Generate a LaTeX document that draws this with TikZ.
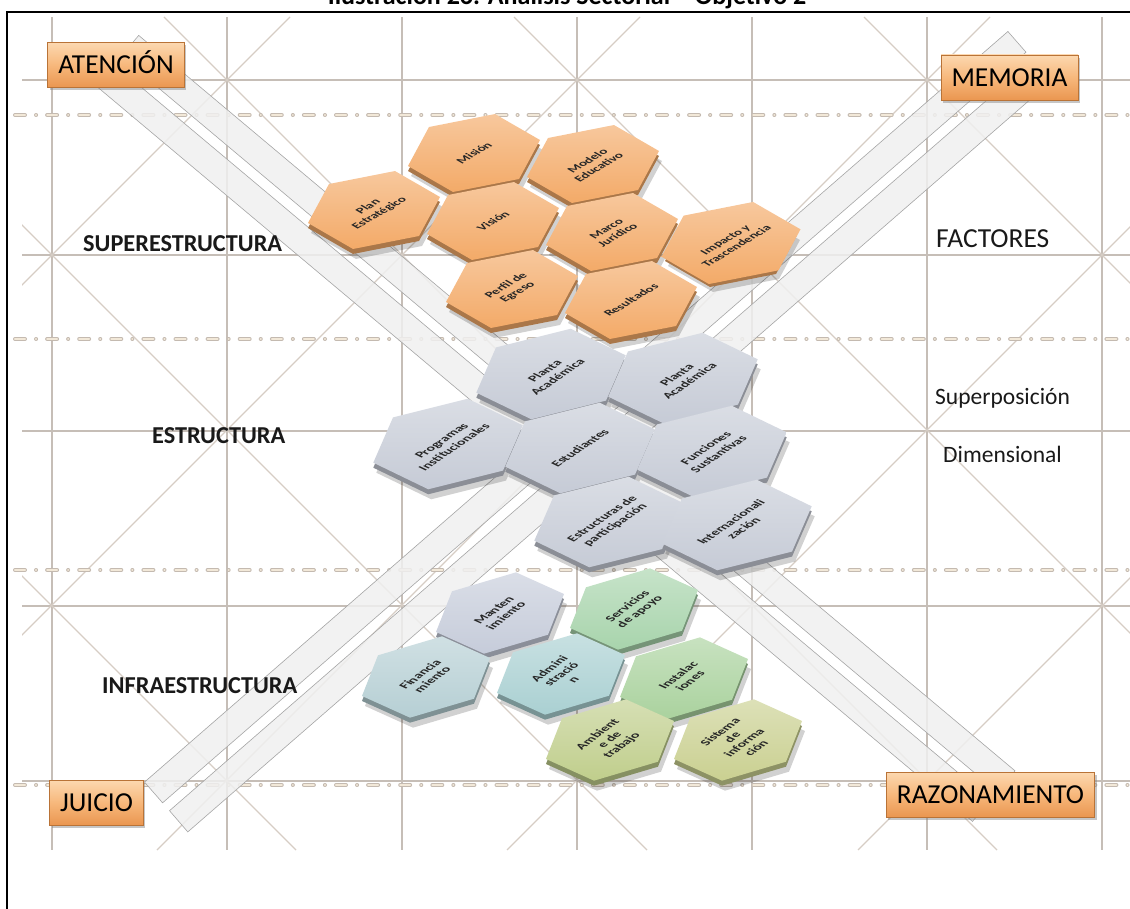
\documentclass[tikz,border=0pt]{standalone}
\usepackage{fontspec}
\setmainfont{Carlito}
\usetikzlibrary{shapes.geometric, shadows}

\definecolor{rejillagris}{RGB}{198,190,183}
\definecolor{diaggris}{RGB}{214,205,196}
\definecolor{guionborde}{RGB}{196,186,176}
\definecolor{guionrelleno}{RGB}{242,232,216}
\definecolor{bandagris}{RGB}{240,240,240}
\definecolor{bandaborde}{RGB}{165,165,165}
\definecolor{cajaclara}{RGB}{252,216,176}
\definecolor{cajamedia}{RGB}{247,184,124}
\definecolor{cajaoscura}{RGB}{234,150,80}
\definecolor{cajaborde}{RGB}{185,115,55}
\definecolor{naranja}{RGB}{243,170,104}
\definecolor{grisazul}{RGB}{198,203,214}
\definecolor{manten}{RGB}{198,204,218}
\definecolor{servicio}{RGB}{168,212,172}
\definecolor{financia}{RGB}{182,207,212}
\definecolor{admin}{RGB}{170,208,210}
\definecolor{instala}{RGB}{170,210,158}
\definecolor{ambiente}{RGB}{192,206,140}
\definecolor{sistema}{RGB}{202,208,145}

% hexagon cell: name, x, y, perspective, colour, text
\newcommand{\celda}[6]{%
  \node[#4, hexsombra] (#1-s) at (#2+3,#3+10) {};
  \node[#4, hexbase, fill=#5!70!black] (#1-c) at (#2,#3+5) {};
  \node[#4, hexbase, top color=#5!65!white, bottom color=#5, text=black!85, align=center] (#1) at (#2,#3) {#6};
}

\begin{document}
\begin{tikzpicture}[x=1pt, y=-1pt,
  rejilla/.style={draw=rejillagris, line width=2.4pt},
  diagonal/.style={draw=diaggris, line width=1.2pt},
  guionfondo/.style={draw=guionborde, line width=4pt, line cap=round, dash pattern=on 10pt off 11pt on 0.1pt off 11pt},
  guion/.style={draw=guionrelleno, line width=2.2pt, line cap=round, dash pattern=on 10pt off 11pt on 0.1pt off 11pt},
  franja/.style={fill=bandagris, draw=bandaborde, line width=0.6pt, fill opacity=0.85},
  caja/.style={draw=cajaborde, line width=0.8pt, top color=cajaclara, bottom color=cajaoscura, middle color=cajamedia,
    minimum height=45pt, inner xsep=10.5pt, text height=17.6pt, text depth=0pt,
    font=\fontsize{27.4}{32}\selectfont, drop shadow={shadow xshift=2pt, shadow yshift=-3pt, opacity=0.45}},
  seccion/.style={font=\bfseries\fontsize{24.3}{29}\selectfont, inner sep=0pt, anchor=base west, text=black!90},
  nota/.style={inner sep=0pt, anchor=base west, text=black!90},
  hexbase/.style={regular polygon, regular polygon sides=6, minimum size=100pt, inner sep=0pt,
    shape border rotate=30, rotate=30},
  hexsombra/.style={hexbase, fill=black, opacity=0.18},
  hexnaranja/.style={cm={1.32,0.26,-0.278,0.75,(0,0)}, font=\bfseries\fontsize{11}{12.5}\selectfont},
  hexgris/.style={cm={1.494,0.374,-0.408,0.83,(0,0)}, font=\bfseries\fontsize{10}{11.5}\selectfont},
  hexinfra/.style={cm={1.28,0.38,-0.37,0.72,(0,0)}, font=\bfseries\fontsize{11.5}{12.5}\selectfont}]

\useasboundingbox (0,0) rectangle (1130,909);

\draw[line width=1.6pt] (7,912) -- (7,12) -- (1133,12);
\node[font=\bfseries\fontsize{26}{31}\selectfont, anchor=base, inner sep=0pt] (titulo) at (567,5)
  {Ilustración 26. Análisis Sectorial – Objetivo 2};

% grid
\draw[rejilla] (52,17) -- (52,850);
\draw[rejilla] (227,17) -- (227,850);
\draw[rejilla] (402,17) -- (402,850);
\draw[rejilla] (577,17) -- (577,850);
\draw[rejilla] (752,17) -- (752,850);
\draw[rejilla] (927,17) -- (927,850);
\draw[rejilla] (1102,17) -- (1102,850);
\draw[rejilla] (22,80) -- (1130,80);
\draw[rejilla] (22,255) -- (1130,255);
\draw[rejilla] (22,431) -- (1130,431);
\draw[rejilla] (22,606) -- (1130,606);
\draw[rejilla] (22,781) -- (1130,781);

\begin{scope}
  \clip (22,17) rectangle (1130,850);
  \draw[diagonal] (-537,17) -- (296,850);
  \draw[diagonal] (-186,17) -- (647,850);
  \draw[diagonal] (164,17) -- (997,850);
  \draw[diagonal] (514,17) -- (1347,850);
  \draw[diagonal] (864,17) -- (1697,850);
  \draw[diagonal] (290,17) -- (-543,850);
  \draw[diagonal] (640,17) -- (-193,850);
  \draw[diagonal] (990,17) -- (157,850);
  \draw[diagonal] (1340,17) -- (507,850);
  \draw[diagonal] (1691,17) -- (858,850);
\end{scope}

\draw[guionfondo] (15,115) -- (1130,115);
\draw[guion] (15,115) -- (1130,115);
\draw[guionfondo] (15,339) -- (1130,339);
\draw[guion] (15,339) -- (1130,339);
\draw[guionfondo] (15,570) -- (1130,570);
\draw[guion] (15,570) -- (1130,570);
\draw[guionfondo] (15,785) -- (1130,785);
\draw[guion] (15,785) -- (1130,785);

% bands
\draw[franja] (138.7,35.4) -- (121.0,56.5) -- (997.3,791.9) -- (1015.0,770.8) -- cycle;
\draw[franja] (114.2,64.5) -- (96.2,86.0) -- (972.5,821.4) -- (990.5,799.9) -- cycle;
\draw[franja] (144.5,782.1) -- (162.6,802.8) -- (1026.0,52.2) -- (1007.9,31.5) -- cycle;
\draw[franja] (169.5,810.7) -- (187.8,831.9) -- (1051.2,81.3) -- (1032.9,60.1) -- cycle;

% infraestructura
\celda{servicios}{634}{609}{hexinfra}{servicio}{Servicios\\de apoyo}
\celda{manten}{500}{613}{hexinfra}{manten}{Manten\\imiento}
\celda{admin}{561}{674}{hexinfra}{admin}{Admini\\stració\\n}
\celda{financia}{426}{677}{hexinfra}{financia}{Financia\\miento}
\celda{instala}{684}{678}{hexinfra}{instala}{Instalac\\iones}
\celda{ambiente}{610}{740}{hexinfra}{ambiente}{Ambient\\e de\\trabajo}
\celda{sistema}{738}{740}{hexinfra}{sistema}{Sistema\\de\\informa\\ción}

% estructura
\celda{planta}{551}{374}{hexgris}{grisazul}{Planta\\Académica}
\celda{plantab}{683}{378}{hexgris}{grisazul}{Planta\\Académica}
\celda{programas}{448}{444}{hexgris}{grisazul}{Programas\\Institucionales}
\celda{estudiantes}{580}{448}{hexgris}{grisazul}{Estudiantes}
\celda{funciones}{712}{451}{hexgris}{grisazul}{Funciones\\Sustantivas}
\celda{estructuras}{609}{522}{hexgris}{grisazul}{Estructuras de\\participación}
\celda{internac}{737}{525}{hexgris}{grisazul}{Internacionali\\zación}

% superestructura
\celda{mision}{474}{153}{hexnaranja}{naranja}{Misión}
\celda{modelo}{593}{164}{hexnaranja}{naranja}{Modelo\\Educativo}
\celda{plan}{374}{210}{hexnaranja}{naranja}{Plan\\Estratégico}
\celda{vision}{493}{221}{hexnaranja}{naranja}{Visión}
\celda{marco}{612}{232}{hexnaranja}{naranja}{Marco\\Jurídico}
\celda{impacto}{731}{243}{hexnaranja}{naranja}{Impacto y\\Trascendencia}
\celda{perfil}{512}{289}{hexnaranja}{naranja}{Perfil de\\Egreso}
\celda{resultados}{631}{300}{hexnaranja}{naranja}{Resultados}

% corner boxes
\node[caja] (atencion) at (116,65) {ATENCIÓN};
\node[caja] (memoria) at (1009.5,77.5) {MEMORIA};
\node[caja] (juicio) at (96.5,802.5) {JUICIO};
\node[caja] (razonamiento) at (990.5,794.5) {RAZONAMIENTO};

% level labels
\node[seccion] (super) at (83,252) {SUPERESTRUCTURA};
\node[seccion] (estruc) at (152,443) {ESTRUCTURA};
\node[seccion] (infra) at (102,693) {INFRAESTRUCTURA};

\node[nota, font=\fontsize{27.5}{32}\selectfont] (factores) at (936,248) {FACTORES};
\node[nota, font=\fontsize{23.5}{28}\selectfont] (superpos) at (935,404) {Superposición};
\node[nota, font=\fontsize{23.5}{28}\selectfont] (dimension) at (943,462) {Dimensional};

\end{tikzpicture}
\end{document}
